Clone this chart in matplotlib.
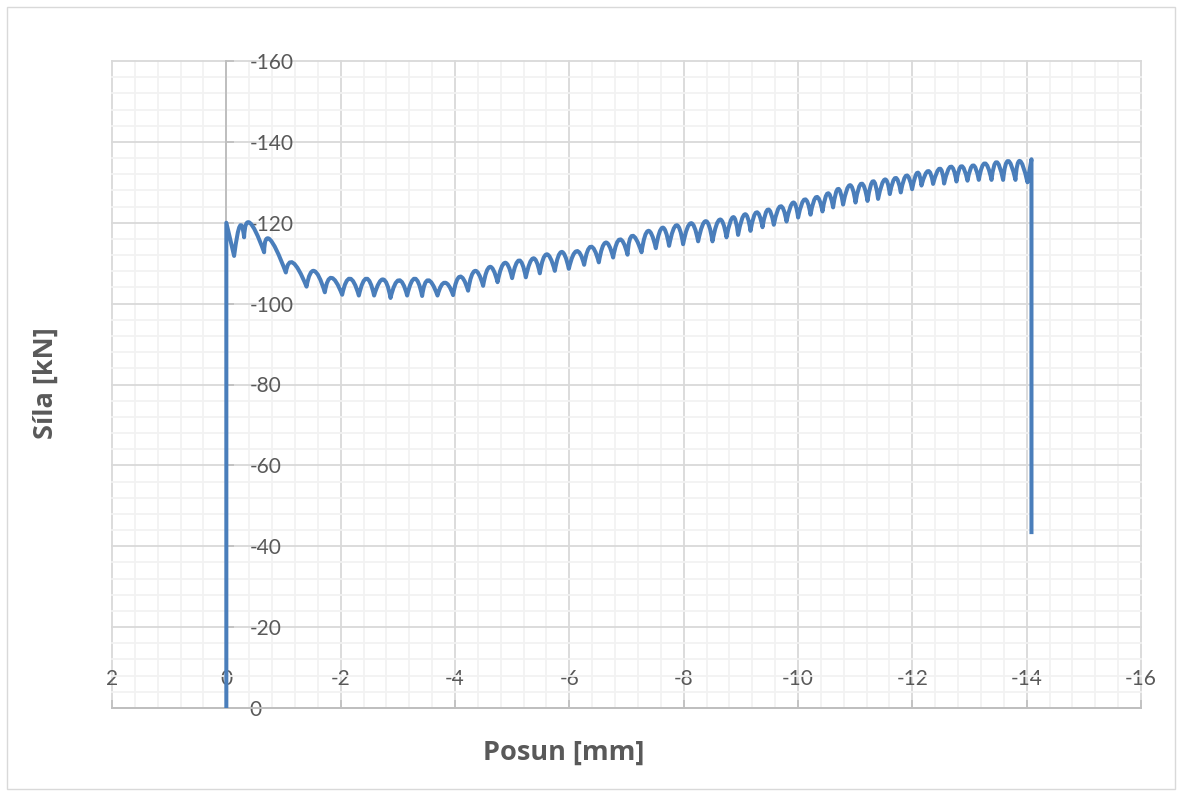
import matplotlib
matplotlib.use('Agg')
import matplotlib.pyplot as plt
from matplotlib.path import Path
from matplotlib.patches import PathPatch, Rectangle
from matplotlib.ticker import MultipleLocator

plt.rcParams['font.family'] = ['Lato', 'DejaVu Sans']
plt.rcParams['axes.unicode_minus'] = False

# ---- data -------------------------------------------------------------
x_ticks = [2, 0, -2, -4, -6, -8, -10, -12, -14, -16]
y_ticks = [0, -20, -40, -60, -80, -100, -120, -140, -160]
x_title = 'Posun [mm]'
y_title = 'Síla [kN]'

# initial loading (vertical branch at zero displacement)
load_x = [0.0, 0.0]
load_f = [0.0, -120.0]

# local minima (cusps) of the force magnitude
trough_x = [-0.136, -0.311, -0.661, -1.041, -1.403, -1.723, -2.026, -2.318, -2.585, -2.872,
            -3.163, -3.425, -3.694, -3.967, -4.229, -4.492, -4.744, -4.999, -5.239, -5.484,
            -5.746, -5.991, -6.259, -6.516, -6.766, -7.018, -7.263, -7.513, -7.745, -7.990,
            -8.253, -8.504, -8.749, -8.952, -9.169, -9.379, -9.577, -9.799, -10.002, -10.219,
            -10.428, -10.614, -10.789, -11.006, -11.216, -11.401, -11.606, -11.798, -11.996, -12.160,
            -12.363, -12.556, -12.772, -12.965, -13.163, -13.385, -13.588, -13.804, -14.014]
trough_f = [-111.8, -116.4, -112.7, -107.7, -104.2, -102.8, -102.2, -102.0, -102.0, -101.4,
            -102.0, -101.9, -102.0, -102.1, -103.2, -104.4, -105.3, -106.3, -106.5, -107.5,
            -108.1, -108.6, -109.6, -110.2, -111.4, -112.1, -112.7, -113.7, -114.3, -114.7,
            -115.4, -115.4, -116.4, -117.0, -118.0, -118.9, -119.5, -120.3, -121.3, -122.0,
            -122.8, -123.8, -124.5, -125.0, -125.4, -125.9, -127.1, -127.5, -128.3, -129.2,
            -129.6, -129.7, -130.2, -130.4, -130.6, -130.6, -130.6, -130.6, -130.0]

# local maxima (arch tops) of the force magnitude
peak_x = [-0.236, -0.411, -0.761, -1.168, -1.536, -1.840, -2.160, -2.452, -2.743, -3.017,
          -3.297, -3.530, -3.822, -4.084, -4.347, -4.609, -4.871, -5.122, -5.366, -5.601,
          -5.863, -6.126, -6.376, -6.633, -6.883, -7.102, -7.378, -7.630, -7.875, -8.125,
          -8.387, -8.632, -8.865, -9.070, -9.274, -9.477, -9.694, -9.914, -10.119, -10.324,
          -10.521, -10.701, -10.906, -11.111, -11.314, -11.518, -11.706, -11.898, -12.090, -12.276,
          -12.480, -12.673, -12.860, -13.063, -13.268, -13.472, -13.675, -13.880]
peak_f = [-119.2, -120.0, -115.9, -110.1, -108.1, -106.4, -106.2, -106.2, -106.0, -105.8,
          -106.2, -105.8, -105.2, -106.7, -108.1, -109.1, -110.1, -110.7, -111.2, -112.2,
          -112.8, -113.0, -114.1, -115.1, -115.9, -116.8, -118.0, -118.8, -119.4, -119.9,
          -120.4, -120.8, -121.4, -122.1, -122.6, -123.3, -124.1, -125.0, -125.8, -126.4,
          -127.3, -128.4, -129.3, -129.7, -130.3, -130.7, -131.1, -131.7, -132.4, -132.8,
          -133.4, -133.9, -134.0, -134.2, -134.7, -135.0, -135.3, -135.3]

# final peak and unloading branch
unload_x = [-14.084, -14.084]
unload_f = [-135.7, -43.0]

# ---- figure -----------------------------------------------------------
W, H = 1181, 795
fig = plt.figure(figsize=(W / 100, H / 100), dpi=100)
fig.patch.set_facecolor('white')
fig.patches.append(Rectangle((6.5 / W, 6.5 / H), (W - 13) / W, (H - 13) / H,
                             transform=fig.transFigure, fill=False,
                             edgecolor='#d9d9d9', linewidth=1.0))

ax = fig.add_axes([112 / W, 1 - 708 / H, (1141 - 112) / W, (708 - 61) / H])
ax.set_xlim(x_ticks[0], x_ticks[-1])
ax.set_ylim(y_ticks[0], y_ticks[-1])
ax.set_xticks(x_ticks)
ax.set_yticks(y_ticks)
ax.xaxis.set_minor_locator(MultipleLocator(0.4))
ax.yaxis.set_minor_locator(MultipleLocator(4))

# axes cross at zero (Excel style with reversed axes)
ax.xaxis.tick_top()
ax.yaxis.tick_right()
ax.spines['top'].set_position(('data', 0))
ax.spines['right'].set_position(('data', 0))
ax.spines['left'].set_visible(False)
ax.spines['bottom'].set_visible(False)
for s in ('top', 'right'):
    ax.spines[s].set_color('#bfbfbf')
    ax.spines[s].set_linewidth(1.4)

ax.tick_params(which='major', direction='out', length=5.5, width=1.2, color='#bfbfbf',
               labelsize=15, labelcolor='#595959')
ax.tick_params(axis='x', which='major', pad=8)
ax.tick_params(axis='y', which='major', pad=11)
ax.tick_params(which='minor', length=0)

ax.set_axisbelow(True)
ax.grid(which='major', color='#d9d9d9', linewidth=1.3)
ax.grid(which='minor', color='#f2f2f2', linewidth=1.3)
for t in ax.xaxis.get_major_ticks() + ax.yaxis.get_major_ticks() + \
         ax.xaxis.get_minor_ticks() + ax.yaxis.get_minor_ticks():
    t.gridline.set_clip_on(False)

# ---- curve: vertical loading, scalloped arches between cusps, unloading
verts = [(load_x[0], load_f[0]), (load_x[1], load_f[1]), (trough_x[0], trough_f[0])]
codes = [Path.MOVETO, Path.LINETO, Path.LINETO]
for i in range(len(peak_x)):
    tx0, tf0 = trough_x[i], trough_f[i]
    tx1, tf1 = trough_x[i + 1], trough_f[i + 1]
    cx = 2 * peak_x[i] - 0.5 * (tx0 + tx1)
    cf = 2 * peak_f[i] - 0.5 * (tf0 + tf1)
    verts += [(cx, cf), (tx1, tf1)]
    codes += [Path.CURVE3, Path.CURVE3]
verts += [(unload_x[0], unload_f[0]), (unload_x[1], unload_f[1])]
codes += [Path.LINETO, Path.LINETO]

ax.add_patch(PathPatch(Path(verts, codes), fill=False, edgecolor='#4a7ebb',
                       linewidth=2.9, joinstyle='round', capstyle='butt', zorder=3))

title_font = ['Open Sans', 'DejaVu Sans']
fig.text(564 / W, 1 - 760 / H, x_title, ha='center', va='baseline', family=title_font,
         fontsize=19.5, fontweight='bold', color='#595959')
fig.text(46 / W, 1 - 383 / H, y_title, ha='center', va='center', rotation=90,
         family=title_font, fontsize=19.5, fontweight='bold', color='#595959')

fig.savefig('out.png', dpi=100, facecolor='white')
